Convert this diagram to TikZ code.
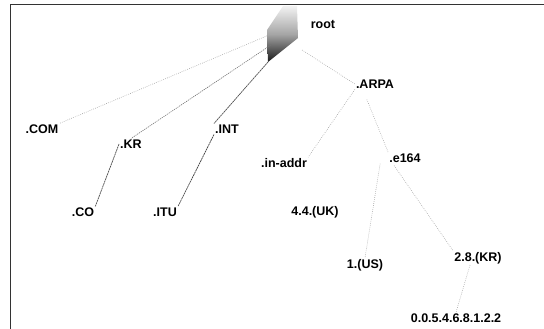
\documentclass[tikz,border=0pt]{standalone}
\usepackage{fontspec}
\setmainfont{Liberation Sans}
\begin{document}
\begin{tikzpicture}[x=1pt,y=-1pt,
  lbl/.style={font=\fontsize{12.5}{14}\selectfont\bfseries, inner sep=1pt},
  faint/.style={draw=black!35, line width=0.6pt, dash pattern=on 0.7pt off 1.3pt},
  medium/.style={draw=black!55, line width=0.6pt, dash pattern=on 1.2pt off 0.9pt},
  dark/.style={draw=black!70, line width=0.7pt, dash pattern=on 2pt off 0.6pt}]
\useasboundingbox (0,0) rectangle (544,329);
\draw[black!80, line width=1.2pt] (10.5,329) -- (10.5,4.5) -- (544,4.5);
% root blob
\shade[top color=black!5, bottom color=black!90, middle color=black!35]
  (283,6) -- (297,6) -- (298,38) -- (268,62) -- (267,30) -- cycle;
\node[lbl] (root) at (323,24) {root};
\node[lbl] (com) at (42,129) {.COM};
\node[lbl] (kr) at (131,144) {.KR};
\node[lbl] (int) at (227,129) {.INT};
\node[lbl] (arpa) at (375,84) {.ARPA};
\node[lbl] (inaddr) at (284,163) {.in-addr};
\node[lbl] (e164) at (405,158) {.e164};
\node[lbl] (co) at (83,212) {.CO};
\node[lbl] (itu) at (165,212) {.ITU};
\node[lbl] (uk) at (315,212) {4.4.(UK)};
\node[lbl] (us) at (365,265) {1.(US)};
\node[lbl] (kr2) at (478,258) {2.8.(KR)};
\node[lbl] (num) at (456,318) {0.0.5.4.6.8.1.2.2};
% connectors
\draw[faint] (269,35) -- (com.north east);
\draw[medium] (271,45) -- (kr.north);
\draw[dark] (268,62) -- (int.north west);
\draw[faint] (302,50) -- (arpa.west);
\draw[dark] (kr.west) -- (co.north east);
\draw[dark] (int.south west) -- (itu.north east);
\draw[faint] (arpa.south west) -- (inaddr.north east);
\draw[faint] (arpa.south west) ++(12,10) -- (e164.north west);
\draw[faint] (e164.south west) ++(-8,0) -- (us.north);
\draw[faint] (e164.south west) ++(6,2) -- (kr2.north west);
\draw[faint] (kr2.south) ++(-8,0) -- (num.north);
\end{tikzpicture}
\end{document}
